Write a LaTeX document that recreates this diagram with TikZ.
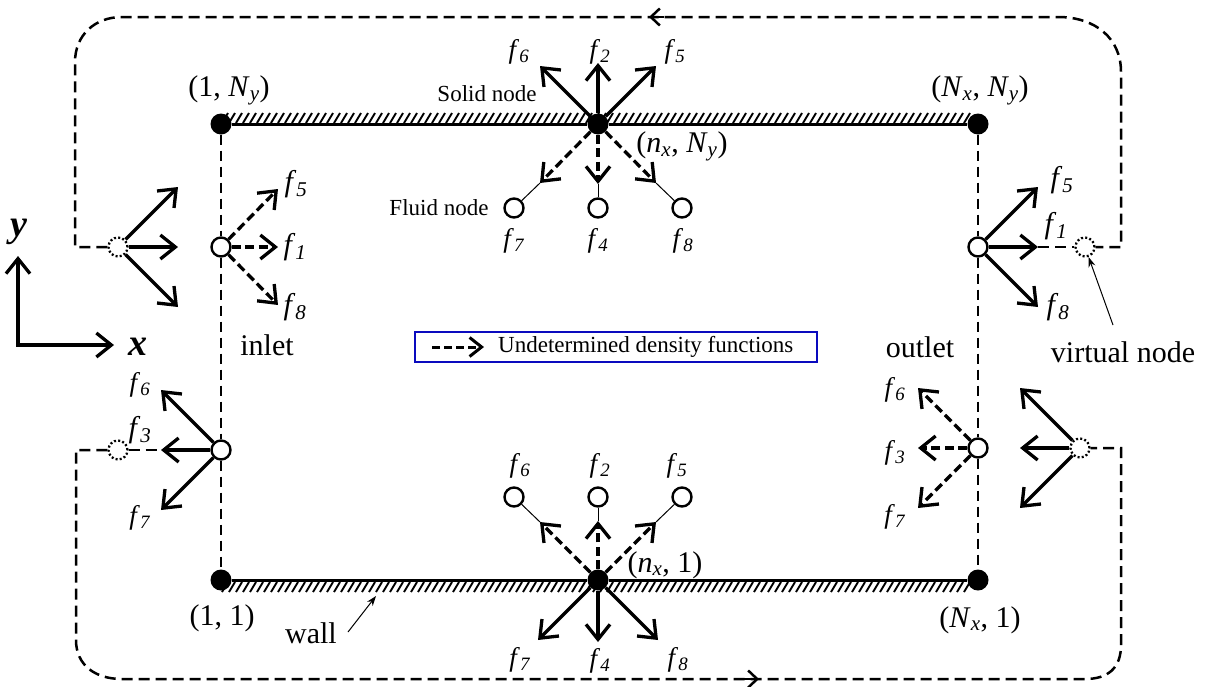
\documentclass[tikz,border=0pt]{standalone}
\usepackage{fontspec}
\setmainfont{Liberation Serif}
\usetikzlibrary{arrows.meta}
\definecolor{legblue}{RGB}{10,10,190}
\newcommand{\fl}[1]{\textit{f}\textsubscript{\textit{#1}}}
\newcommand{\ixs}[2]{\textit{#1}\textsubscript{\textit{#2}}}
\begin{document}
\begin{tikzpicture}[x=1pt,y=-1pt,
  arr/.style={line width=3.3pt,-{Straight Barb[length=15pt,width=24pt]}},
  darr/.style={arr,dash pattern=on 9pt off 4.5pt},
  thinline/.style={line width=1pt},
  thinarr/.style={line width=1pt,-{Stealth[length=10pt,width=7pt]}},
  bdash/.style={line width=2.4pt,dash pattern=on 10pt off 6pt},
  loopline/.style={line width=2.5pt,dash pattern=on 11pt off 6pt},
  looptip/.style={line width=2.5pt,-{Straight Barb[length=9pt,width=17pt]}},
  wallline/.style={line width=3pt},
  hatchline/.style={line width=1.9pt},
  soliddot/.style={circle,fill=black,minimum size=21pt,inner sep=0pt},
  fluiddot/.style={circle,draw=black,fill=white,line width=2.4pt,minimum size=19pt,inner sep=0pt},
  virtdot/.style={circle,draw=black,line width=2.3pt,dash pattern=on 2pt off 2.2pt,minimum size=19pt,inner sep=0pt},
  biglab/.style={font=\fontsize{30}{34}\selectfont,inner sep=0pt},
  midlab/.style={font=\fontsize{23}{26}\selectfont,inner sep=0pt},
  flab/.style={font=\fontsize{27}{30}\selectfont,inner sep=0pt},
  fbig/.style={font=\fontsize{30}{33}\selectfont,inner sep=0pt},
  axlab/.style={font=\fontsize{38}{42}\selectfont\bfseries\itshape,inner sep=0pt},
  legbox/.style={draw=legblue,line width=2.2pt,minimum width=402pt,minimum height=30pt,inner sep=0pt}
]
\useasboundingbox (0,0) rectangle (1209,686);

% ---------- nodes ----------
\node[soliddot] (TL) at (221,124) {};
\node[soliddot] (TR) at (978,124) {};
\node[soliddot] (TC) at (598,124) {};
\node[soliddot] (BL) at (221,580) {};
\node[soliddot] (BR) at (978,580) {};
\node[soliddot] (BC) at (598,580) {};
\node[fluiddot] (I1) at (221,247) {};
\node[fluiddot] (I2) at (221,450) {};
\node[fluiddot] (O1) at (978,247) {};
\node[fluiddot] (O2) at (978,448) {};
\node[virtdot] (VL1) at (118,247) {};
\node[virtdot] (VL2) at (118,450) {};
\node[virtdot] (VR1) at (1085,247) {};
\node[virtdot] (VR2) at (1080,448) {};
\node[fluiddot] (FT7) at (514,208) {};
\node[fluiddot] (FT4) at (598,208) {};
\node[fluiddot] (FT8) at (682,208) {};
\node[fluiddot] (FB6) at (514,497) {};
\node[fluiddot] (FB2) at (598,497) {};
\node[fluiddot] (FB5) at (682,497) {};

% ---------- arrow tip coordinates ----------
\coordinate (a6) at (540,66);  \coordinate (a2) at (598,63);  \coordinate (a5) at (656,66);
\coordinate (d7) at (540,183); \coordinate (d4) at (598,184); \coordinate (d8) at (656,183);
\coordinate (b6) at (540,522); \coordinate (b2) at (598,521); \coordinate (b5) at (656,522);
\coordinate (c7) at (538,640); \coordinate (c4) at (598,642); \coordinate (c8) at (658,640);
\coordinate (i5) at (278,189); \coordinate (i1) at (278,247); \coordinate (i8) at (278,305);
\coordinate (v5) at (178,187); \coordinate (v1) at (178,247); \coordinate (v8) at (178,307);
\coordinate (j6) at (161,390); \coordinate (j3) at (161,450); \coordinate (j7) at (161,510);
\coordinate (o5) at (1038,187); \coordinate (o1) at (1038,247); \coordinate (o8) at (1038,307);
\coordinate (p6) at (918,388); \coordinate (p3) at (918,448); \coordinate (p7) at (918,508);
\coordinate (w6) at (1020,388); \coordinate (w3) at (1020,448); \coordinate (w7) at (1020,508);

% ---------- walls ----------
\foreach \x in {222,229,...,970} \draw[hatchline] (\x,123) -- (\x+6,113);
\foreach \x in {222,229,...,970} \draw[hatchline] (\x,592) -- (\x+6,582);
\draw[wallline] (TL) -- (TC) -- (TR);
\draw[wallline] (BL) -- (BC) -- (BR);

% ---------- inlet / outlet boundaries ----------
\draw[bdash] (TL) -- (I1) -- (I2) -- (BL);
\draw[bdash] (TR) -- (O1) -- (O2) -- (BR);

% ---------- periodic loops ----------
\draw[loopline] (VL1) -- (75,247) -- (75,62) .. controls (75,35) and (95,17) .. (122,17)
  -- (1058,17) .. controls (1095,17) and (1121,38) .. (1121,72) -- (1121,247) -- (VR1);
\draw[loopline] (o1) -- (VR1);
\draw[looptip] (664,17) -- (649,17);
\draw[loopline] (VL2) -- (76,450) -- (76,640) .. controls (76,665) and (95,679) .. (122,679)
  -- (1085,679) .. controls (1108,679) and (1121,668) .. (1121,645) -- (1121,448) -- (VR2);
\draw[loopline] (VL2) -- (j3);
\draw[looptip] (744,679) -- (759,679);

% ---------- top solid node ----------
\draw[arr] (TC) -- (a6);
\draw[arr] (TC) -- (a2);
\draw[arr] (TC) -- (a5);
\draw[darr] (TC) -- (d7);
\draw[darr] (TC) -- (d4);
\draw[darr] (TC) -- (d8);
\draw[thinline] (d7) -- (FT7);
\draw[thinline] (d4) -- (FT4);
\draw[thinline] (d8) -- (FT8);

% ---------- bottom solid node ----------
\draw[darr] (BC) -- (b6);
\draw[darr] (BC) -- (b2);
\draw[darr] (BC) -- (b5);
\draw[arr] (BC) -- (c7);
\draw[arr] (BC) -- (c4);
\draw[arr] (BC) -- (c8);
\draw[thinline] (b6) -- (FB6);
\draw[thinline] (b2) -- (FB2);
\draw[thinline] (b5) -- (FB5);

% ---------- inlet nodes ----------
\draw[darr] (I1) -- (i5);
\draw[darr] (I1) -- (i1);
\draw[darr] (I1) -- (i8);
\draw[arr] (VL1) -- (v5);
\draw[arr] (VL1) -- (v1);
\draw[arr] (VL1) -- (v8);
\draw[arr] (I2) -- (j6);
\draw[arr] (I2) -- (j3);
\draw[arr] (I2) -- (j7);

% ---------- outlet nodes ----------
\draw[arr] (O1) -- (o5);
\draw[arr] (O1) -- (o1);
\draw[arr] (O1) -- (o8);
\draw[darr] (O2) -- (p6);
\draw[darr] (O2) -- (p3);
\draw[darr] (O2) -- (p7);
\draw[arr] (VR2) -- (w6);
\draw[arr] (VR2) -- (w3);
\draw[arr] (VR2) -- (w7);

% ---------- axes ----------
\coordinate (ax0) at (18,345);
\coordinate (axy) at (18,256);
\coordinate (axx) at (114,345);
\draw[line width=3.3pt,{Straight Barb[length=15pt,width=24pt]}-{Straight Barb[length=15pt,width=24pt]}] (axy) -- (ax0) -- (axx);
\node[axlab] (ylab) at (19,232) {y};
\node[axlab] (xlab) at (138,347) {x};

% ---------- f labels ----------
\node[flab] (lt6) at (519,52) {\fl{6}};
\node[flab] (lt2) at (600,52) {\fl{2}};
\node[flab] (lt5) at (675,52) {\fl{5}};
\node[flab] (lt7) at (514,241) {\fl{7}};
\node[flab] (lt4) at (598,241) {\fl{4}};
\node[flab] (lt8) at (683,241) {\fl{8}};
\node[flab] (lb6) at (520,466) {\fl{6}};
\node[flab] (lb2) at (600,466) {\fl{2}};
\node[flab] (lb5) at (677,466) {\fl{5}};
\node[flab] (lb7) at (520,660) {\fl{7}};
\node[flab] (lb4) at (600,661) {\fl{4}};
\node[flab] (lb8) at (678,660) {\fl{8}};
\node[fbig] (li5) at (296,184) {\fl{5}};
\node[fbig] (li1) at (295,247) {\fl{1}};
\node[fbig] (li8) at (295,307) {\fl{8}};
\node[flab] (lj6) at (140,385) {\fl{6}};
\node[fbig] (lj3) at (140,430) {\fl{3}};
\node[flab] (lj7) at (140,518) {\fl{7}};
\node[fbig] (lo5) at (1062,180) {\fl{5}};
\node[fbig] (lo1) at (1056,226) {\fl{1}};
\node[fbig] (lo8) at (1058,307) {\fl{8}};
\node[flab] (lp6) at (895,390) {\fl{6}};
\node[flab] (lp3) at (895,453) {\fl{3}};
\node[flab] (lp7) at (895,517) {\fl{7}};

% ---------- text labels ----------
\node[biglab] (tl) at (229,90) {(1, \ixs{N}{y})};
\node[biglab] (tr) at (980,90) {(\ixs{N}{x}, \ixs{N}{y})};
\node[biglab] (tc) at (682,146) {(\ixs{n}{x}, \ixs{N}{y})};
\node[biglab] (bc) at (665,565) {(\ixs{n}{x}, 1)};
\node[biglab] (bl) at (222,618) {(1, 1)};
\node[biglab] (br) at (980,620) {(\ixs{N}{x}, 1)};
\node[midlab] (solid) at (487,94) {Solid node};
\node[midlab] (fluid) at (439,208) {Fluid node};
\node[biglab] (inlet) at (267,345) {inlet};
\node[biglab] (outlet) at (920,347) {outlet};
\node[biglab] (vnode) at (1123,352) {virtual node};
\node[biglab] (wall) at (311,633) {wall};

\coordinate (vnp) at (1113,325);
\draw[thinarr] (vnp) -- (VR1);
\coordinate (wp) at (348,632);
\coordinate (wt) at (376,596);
\draw[thinarr] (wp) -- (wt);

% ---------- legend ----------
\node[legbox] (leg) at (616,347) {};
\coordinate (lga) at (432,347);
\coordinate (lgb) at (484,347);
\draw[line width=3pt,dash pattern=on 8pt off 4pt,-{Straight Barb[length=12pt,width=19pt]}] (lga) -- (lgb);
\node[midlab,anchor=west] (legtxt) at (498,347) {Undetermined density functions};
\end{tikzpicture}
\end{document}
